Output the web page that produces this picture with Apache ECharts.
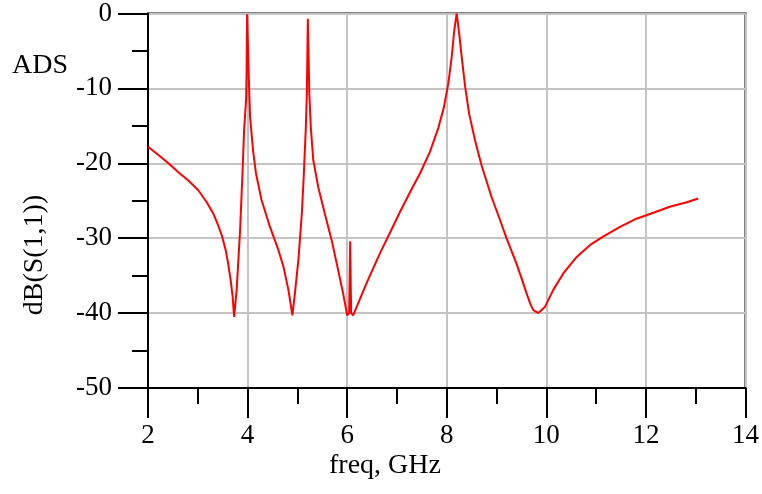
<!DOCTYPE html>
<html>
<head>
<meta charset="utf-8">
<script src="https://cdn.jsdelivr.net/npm/echarts@6/dist/echarts.min.js"></script>
<style>
  html, body { margin: 0; padding: 0; background: #fff; }
  #chart { width: 762px; height: 494px; }
</style>
</head>
<body>
<div id="chart"></div>
<script>
var freq = [2.00, 2.21, 2.41, 2.61, 2.81, 3.01, 3.18, 3.31, 3.41, 3.49, 3.56, 3.61, 3.66, 3.70, 3.73,
  3.78, 3.85, 3.90, 3.93, 3.95, 3.97, 3.98, 3.99,
  4.02, 4.05, 4.11, 4.17, 4.28, 4.45, 4.62, 4.72, 4.82, 4.90, 4.95, 5.02, 5.09, 5.13, 5.17, 5.19, 5.21,
  5.24, 5.27, 5.32, 5.42, 5.55, 5.69, 5.82, 5.92, 6.00, 6.04, 6.06, 6.08, 6.12, 6.39, 6.66, 6.93,
  7.06, 7.33, 7.46, 7.66, 7.83, 7.94, 8.03, 8.10, 8.15, 8.20, 8.25, 8.30, 8.37, 8.45, 8.57, 8.70, 8.90,
  9.05, 9.20, 9.40, 9.50, 9.60, 9.68, 9.74, 9.84, 9.97, 10.14, 10.34, 10.61, 10.88, 11.14, 11.48, 11.81,
  12.15, 12.48, 12.82, 13.05];
var s11 = [-17.8, -18.9, -20.0, -21.2, -22.3, -23.6, -25.2, -26.7, -28.3, -29.8, -31.6, -33.4, -35.6, -37.8, -40.5,
  -36.9, -28.9, -20.9, -15.6, -13.5, -11.5, -8.0, -0.1,
  -7.6, -13.8, -18.3, -21.4, -24.9, -28.5, -31.6, -33.8, -36.9, -40.3, -37.4, -32.9, -26.7, -21.4, -15.2, -10.7, -0.7,
  -10.7, -15.2, -19.6, -23.2, -26.7, -30.3, -34.3, -37.4, -40.3, -40.0, -30.4, -40.0, -40.3, -36.0, -32.0, -28.3,
  -26.5, -23.0, -21.4, -18.5, -15.3, -12.6, -9.4, -5.8, -2.3, 0, -2.7, -5.8, -9.8, -13.4, -17.0, -20.3, -24.5,
  -27.2, -30.0, -33.4, -35.3, -37.3, -38.8, -39.6, -40.0, -39.2, -36.9, -34.7, -32.5, -30.9, -29.8, -28.5, -27.4,
  -26.6, -25.8, -25.2, -24.7];

var xTicks = [2, 4, 6, 8, 10, 12, 14];
var yTicks = [-50, -40, -30, -20, -10, 0];

var points = [];
for (var i = 0; i < freq.length; i++) {
  points.push([freq[i], s11[i]]);
}

var font = 'Liberation Serif, Times New Roman, serif';
var chart = echarts.init(document.getElementById('chart'));

function axisCommon(ticks, margin) {
  return {
    type: 'value',
    min: ticks[0],
    max: ticks[ticks.length - 1],
    interval: ticks[1] - ticks[0],
    axisLine: { show: true, onZero: false, lineStyle: { color: '#000', width: 2 } },
    axisTick: { show: true, inside: false, length: 30, lineStyle: { color: '#000', width: 2 } },
    minorTick: { show: true, splitNumber: 2, length: 16, lineStyle: { color: '#000', width: 2 } },
    splitLine: { show: true, lineStyle: { color: '#c4c4c4', width: 2 } },
    axisLabel: { color: '#000', fontFamily: font, fontSize: 27, margin: margin }
  };
}

chart.setOption({
  animation: false,
  grid: { left: 148, right: 16, top: 13, bottom: 106, show: true, borderColor: '#000', borderWidth: 2 },
  xAxis: axisCommon(xTicks, 34),
  yAxis: axisCommon(yTicks, 36),
  graphic: [
    { type: 'text', left: 12, top: 52, style: { text: 'ADS', fontFamily: font, fontSize: 28, fill: '#000' } },
    { type: 'text', x: 35, y: 255, rotation: Math.PI / 2,
      style: { text: 'dB(S(1,1))', fontFamily: font, fontSize: 28, fill: '#000', align: 'center', verticalAlign: 'middle' } },
    { type: 'text', x: 385, y: 466,
      style: { text: 'freq, GHz', fontFamily: font, fontSize: 28, fill: '#000', align: 'center', verticalAlign: 'middle' } }
  ],
  series: [{
    type: 'line',
    data: points,
    showSymbol: false,
    lineStyle: { color: '#ff0000', width: 2 },
    itemStyle: { color: '#ff0000' }
  }]
});
</script>
</body>
</html>
